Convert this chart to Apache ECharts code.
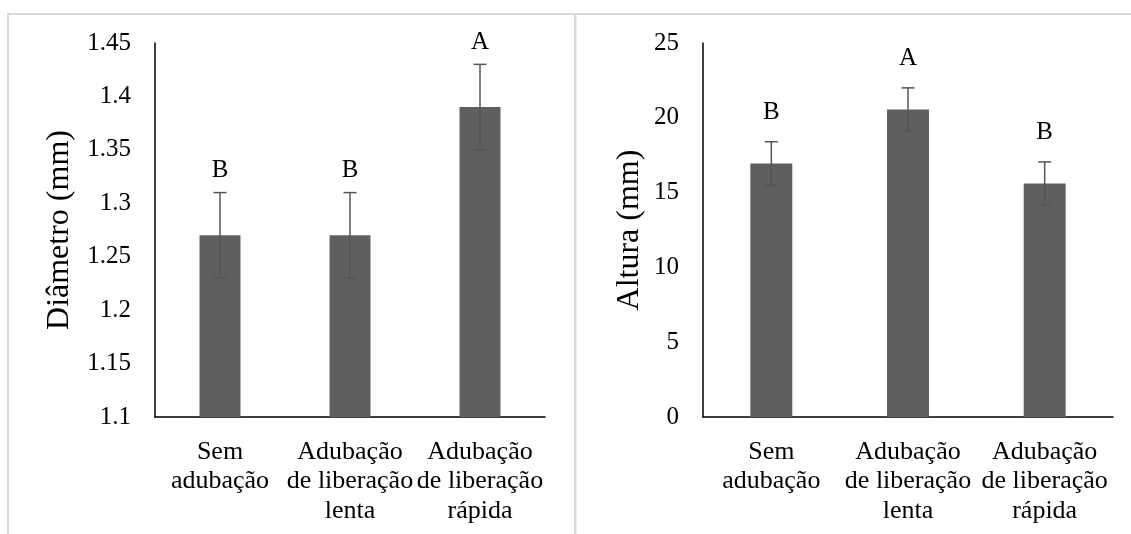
<!DOCTYPE html>
<html>
<head>
<meta charset="utf-8">
<script src="https://cdn.jsdelivr.net/npm/echarts@6/dist/echarts.min.js"></script>
<style>
html,body{margin:0;padding:0;background:#fff;}
#c{width:1131px;height:534px;}
</style>
</head>
<body>
<div id="c"></div>
<script>
// ---- data ----
var categoriesLeft = ['Sem\nadubação', 'Adubação\nde liberação\nlenta', 'Adubação\nde liberação\nrápida'];
var categoriesRight = ['Sem\nadubação', 'Adubação\nde liberação\nlenta', 'Adubação\nde liberação\nrápida'];
var diametro = [1.27, 1.27, 1.39];
var diametroErr = [0.04, 0.04, 0.04];
var diametroLetters = ['B', 'B', 'A'];
var altura = [16.95, 20.55, 15.6];
var alturaErr = [1.45, 1.45, 1.45];
var alturaLetters = ['B', 'A', 'B'];
var leftAxisMin = 1.1, leftAxisMax = 1.45, leftAxisStep = 0.05;
var rightAxisMin = 0, rightAxisMax = 25, rightAxisStep = 5;

var FONT = 'Liberation Serif';
var BAR = '#5f5f5f';
var ERR = '#555555';

function errData(vals, errs, letters) {
  return vals.map(function (v, i) { return [i, v - errs[i], v + errs[i], letters[i]]; });
}
function errRender(letterOffset) {
  return function (params, api) {
    var x = api.value(0);
    var lo = api.coord([x, api.value(1)]);
    var hi = api.coord([x, api.value(2)]);
    var hw = 6.5;
    var st = { stroke: ERR, lineWidth: 1.5 };
    return {
      type: 'group',
      children: [
        { type: 'line', shape: { x1: hi[0], y1: hi[1], x2: lo[0], y2: lo[1] }, style: st },
        { type: 'line', shape: { x1: hi[0] - hw, y1: hi[1], x2: hi[0] + hw, y2: hi[1] }, style: st },
        { type: 'line', shape: { x1: lo[0] - hw, y1: lo[1], x2: lo[0] + hw, y2: lo[1] }, style: st },
        { type: 'text', x: hi[0], y: hi[1] - letterOffset,
          style: { text: api.value(3), fill: '#000', font: '25px "' + FONT + '"', align: 'center', verticalAlign: 'middle' } }
      ]
    };
  };
}

function xAxis(idx, cats) {
  return {
    type: 'category', gridIndex: idx, data: cats,
    axisLine: { lineStyle: { color: '#000', width: 1.5 } },
    axisTick: { show: false },
    axisLabel: { interval: 0, color: '#000', fontFamily: FONT, fontSize: 26, lineHeight: 29.5, margin: 20 }
  };
}
function yAxis(idx, name, min, max, step, gap) {
  return {
    type: 'value', gridIndex: idx, min: min, max: max, interval: step,
    name: name, nameLocation: 'middle', nameGap: gap,
    nameTextStyle: { color: '#000', fontFamily: FONT, fontSize: 32 },
    axisLine: { show: true, lineStyle: { color: '#000', width: 1.5 } },
    axisTick: { show: false },
    splitLine: { show: false },
    axisLabel: { color: '#000', fontFamily: FONT, fontSize: 25, margin: 24 }
  };
}

var chart = echarts.init(document.getElementById('c'));
chart.setOption({
  animation: false,
  backgroundColor: '#fff',
  textStyle: { fontFamily: FONT },
  graphic: [
    { type: 'rect', shape: { x: 7, y: 13, width: 1124, height: 2 }, style: { fill: '#d9d9d9' }, silent: true },
    { type: 'rect', shape: { x: 7, y: 13, width: 2, height: 521 }, style: { fill: '#d9d9d9' }, silent: true },
    { type: 'rect', shape: { x: 574, y: 13, width: 2.5, height: 521 }, style: { fill: '#d9d9d9' }, silent: true }
  ],
  grid: [
    { left: 155, top: 43, width: 390, height: 374 },
    { left: 703, top: 43, width: 410, height: 374 }
  ],
  xAxis: [xAxis(0, categoriesLeft), xAxis(1, categoriesRight)],
  yAxis: [
    yAxis(0, 'Diâmetro (mm)', leftAxisMin, leftAxisMax, leftAxisStep, 79),
    yAxis(1, 'Altura (mm)', rightAxisMin, rightAxisMax, rightAxisStep, 57)
  ],
  series: [
    { type: 'bar', xAxisIndex: 0, yAxisIndex: 0, data: diametro, barWidth: '31.5%', itemStyle: { color: BAR } },
    { type: 'custom', xAxisIndex: 0, yAxisIndex: 0, data: errData(diametro, diametroErr, diametroLetters),
      renderItem: errRender(22), encode: { x: 0, y: [1, 2] }, z: 5 },
    { type: 'bar', xAxisIndex: 1, yAxisIndex: 1, data: altura, barWidth: '30.7%', itemStyle: { color: BAR } },
    { type: 'custom', xAxisIndex: 1, yAxisIndex: 1, data: errData(altura, alturaErr, alturaLetters),
      renderItem: errRender(29), encode: { x: 0, y: [1, 2] }, z: 5 }
  ]
});
</script>
</body>
</html>
